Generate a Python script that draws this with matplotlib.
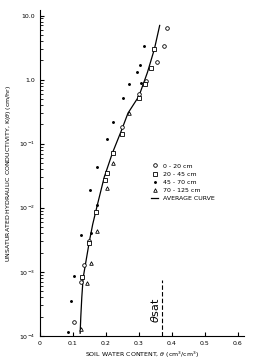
import matplotlib.pyplot as plt
import numpy as np

# 0 - 20 cm
circ_x = [0.384, 0.375, 0.354, 0.323, 0.300, 0.250, 0.149, 0.134, 0.125, 0.104]
circ_k = [6.5, 3.3, 1.86, 0.94, 0.60, 0.18, 0.0030, 0.0013, 0.00069, 0.000165]
# 20 - 45 cm
sq_x = [0.347, 0.338, 0.317, 0.300, 0.248, 0.222, 0.204, 0.198, 0.171, 0.149, 0.128]
sq_k = [3.0, 1.5, 0.85, 0.51, 0.14, 0.072, 0.035, 0.027, 0.0085, 0.0028, 0.00083]
# 45 - 70 cm
dot_x = [0.314, 0.302, 0.293, 0.271, 0.305, 0.253, 0.222, 0.204, 0.173, 0.152,
         0.174, 0.155, 0.125, 0.104, 0.094, 0.085]
dot_k = [3.4, 1.66, 1.3, 0.85, 0.87, 0.51, 0.22, 0.12, 0.044, 0.0186,
         0.011, 0.004, 0.0037, 0.00085, 0.00035, 0.000115]
# 70 - 125 cm
tri_x = [0.271, 0.223, 0.204, 0.174, 0.155, 0.143, 0.125]
tri_k = [0.30, 0.050, 0.020, 0.0043, 0.00135, 0.00066, 0.00013]
# average curve
avg_x = [0.122, 0.124, 0.127, 0.131, 0.140, 0.150, 0.160, 0.174, 0.195, 0.220,
         0.247, 0.267, 0.300, 0.326, 0.347, 0.363]
avg_k = [0.00011, 0.0002, 0.0004, 0.0008, 0.0015, 0.003, 0.0055, 0.011, 0.03, 0.072,
         0.16, 0.30, 0.55, 1.3, 3.0, 7.0]
theta_sat = 0.37

plt.rcParams['font.family'] = 'DejaVu Sans'
fig = plt.figure(figsize=(2.59, 3.6), dpi=100)
ax = fig.add_axes([0.154, 0.067, 0.79, 0.904])

ax.plot(avg_x, avg_k, color='black', lw=0.9, label='AVERAGE CURVE')
ax.plot(circ_x, circ_k, 'o', mfc='white', mec='black', ms=2.6, mew=0.6, label='0 - 20 cm')
ax.plot(sq_x, sq_k, 's', mfc='white', mec='black', ms=2.6, mew=0.6, label='20 - 45 cm')
ax.plot(dot_x, dot_k, '.', color='black', ms=2.2, label='45 - 70 cm')
ax.plot(tri_x, tri_k, '^', mfc='white', mec='black', ms=2.6, mew=0.6, label='70 - 125 cm')
ax.plot([theta_sat, theta_sat], [1e-4, 7.5e-4], color='black', lw=0.8, ls=(0, (4, 2)))
ax.text(0.349, 2.5e-4, r'$\theta$sat', rotation=90, fontsize=8, ha='center', va='center')

ax.set_yscale('log')
ax.set_xlim(0, 0.62)
ax.set_ylim(1e-4, 12)
ax.set_xticks([0, 0.1, 0.2, 0.3, 0.4, 0.5, 0.6])
ax.set_xticklabels(['0', '0.1', '0.2', '0.3', '0.4', '0.5', '0.6'])
ax.set_yticks([1e-4, 1e-3, 1e-2, 1e-1, 1, 10])
ax.set_yticklabels([r'$10^{-4}$', r'$10^{-3}$', r'$10^{-2}$', r'$10^{-1}$', '1.0', '10.0'])
for s in ['top', 'right']:
    ax.spines[s].set_visible(False)
ax.tick_params(direction='in', labelsize=4.5, length=3, width=0.8)
ax.tick_params(which='minor', direction='in', length=2, width=0.6)
ax.set_xlabel(r'SOIL WATER CONTENT, $\theta$ (cm$^3$/cm$^3$)', fontsize=4.5, labelpad=3)
ax.set_ylabel(r'UNSATURATED HYDRAULIC CONDUCTIVITY, K($\theta$) (cm/hr)', fontsize=4.5, labelpad=4)

h, l = ax.get_legend_handles_labels()
order = [1, 2, 3, 4, 0]
ax.legend([h[i] for i in order], [l[i] for i in order], loc='upper left',
          bbox_to_anchor=(0.53, 0.54), frameon=False, fontsize=4.5,
          handlelength=1.0, handletextpad=0.8, labelspacing=0.45, borderpad=0)

fig.savefig('out.png', dpi=100)
